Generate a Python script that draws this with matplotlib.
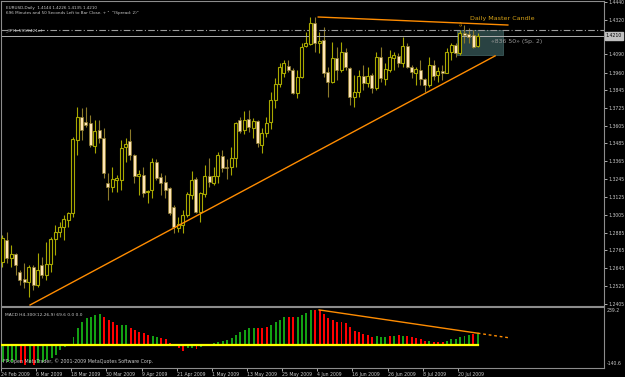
import numpy as np
import matplotlib.pyplot as plt
from matplotlib.patches import Rectangle

# EURUSD daily bars, 24 Feb 2009 .. 24 Jul 2009 (weekdays)
opens = [1.2687, 1.2835, 1.2714, 1.2741, 1.2619, 1.2572, 1.2552, 1.2653, 1.2532, 1.2667,
         1.2599, 1.2673, 1.2842, 1.2889, 1.2922, 1.2970, 1.3017, 1.3508, 1.3663, 1.3630,
         1.3623, 1.3468, 1.3576, 1.3522, 1.3219, 1.3192, 1.3239, 1.3239, 1.3461, 1.3502,
         1.3407, 1.3266, 1.3273, 1.3158, 1.3172, 1.3360, 1.3259, 1.3226, 1.3185, 1.3057,
         1.2916, 1.2936, 1.3003, 1.3138, 1.3246, 1.3024, 1.3145, 1.3266, 1.3219, 1.3266,
         1.3401, 1.3327, 1.3327, 1.3387, 1.3643, 1.3576, 1.3650, 1.3589, 1.3636, 1.3475,
         1.3556, 1.3630, 1.3778, 1.3886, 1.3960, 1.4007, 1.3980, 1.3825, 1.3933, 1.4142,
         1.4155, 1.4297, 1.4162, 1.4182, 1.3967, 1.3899, 1.4061, 1.3980, 1.4101, 1.3993,
         1.3798, 1.3832, 1.3940, 1.3892, 1.3946, 1.3859, 1.4068, 1.3919, 1.3980, 1.4061,
         1.4074, 1.4027, 1.4142, 1.4000, 1.3960, 1.3980, 1.3919, 1.3879, 1.4014, 1.3946,
         1.3973, 1.3960, 1.4101, 1.4148, 1.4094, 1.4229, 1.4222, 1.4216, 1.4144]
highs = [1.2869, 1.2889, 1.2801, 1.2747, 1.2633, 1.2680, 1.2667, 1.2667, 1.2747, 1.2720,
         1.2821, 1.2855, 1.2936, 1.2956, 1.3003, 1.3024, 1.3529, 1.3731, 1.3724, 1.3731,
         1.3677, 1.3643, 1.3643, 1.3589, 1.3286, 1.3327, 1.3273, 1.3508, 1.3522, 1.3583,
         1.3414, 1.3306, 1.3327, 1.3172, 1.3387, 1.3381, 1.3286, 1.3273, 1.3192, 1.3071,
         1.2990, 1.3037, 1.3158, 1.3300, 1.3259, 1.3158, 1.3340, 1.3387, 1.3327, 1.3428,
         1.3441, 1.3381, 1.3461, 1.3630, 1.3663, 1.3704, 1.3711, 1.3657, 1.3643, 1.3589,
         1.3663, 1.3832, 1.3926, 1.4027, 1.4047, 1.4047, 1.3993, 1.3980, 1.4162, 1.4236,
         1.4337, 1.4337, 1.4236, 1.4270, 1.4000, 1.4169, 1.4135, 1.4169, 1.4128, 1.4000,
         1.3946, 1.3980, 1.4014, 1.4000, 1.3960, 1.4101, 1.4135, 1.4027, 1.4115, 1.4101,
         1.4094, 1.4202, 1.4162, 1.4014, 1.4000, 1.4047, 1.3926, 1.4068, 1.4047, 1.4000,
         1.4014, 1.4128, 1.4162, 1.4162, 1.4249, 1.4283, 1.4263, 1.4249, 1.4226]
lows = [1.2653, 1.2680, 1.2653, 1.2599, 1.2532, 1.2512, 1.2451, 1.2498, 1.2518, 1.2579,
        1.2565, 1.2619, 1.2734, 1.2855, 1.2835, 1.2922, 1.2990, 1.3407, 1.3508, 1.3596,
        1.3461, 1.3421, 1.3488, 1.3253, 1.3104, 1.3158, 1.3158, 1.3172, 1.3360, 1.3374,
        1.3219, 1.3138, 1.3125, 1.3084, 1.3118, 1.3239, 1.3138, 1.3118, 1.3003, 1.2882,
        1.2889, 1.2882, 1.2990, 1.3111, 1.3017, 1.2956, 1.3125, 1.3192, 1.3205, 1.3219,
        1.3293, 1.3246, 1.3273, 1.3327, 1.3556, 1.3549, 1.3562, 1.3522, 1.3461, 1.3421,
        1.3529, 1.3583, 1.3724, 1.3866, 1.3933, 1.3967, 1.3818, 1.3791, 1.3926, 1.4135,
        1.4148, 1.4101, 1.4094, 1.3933, 1.3798, 1.3892, 1.3913, 1.3967, 1.3980, 1.3744,
        1.3731, 1.3798, 1.3845, 1.3866, 1.3825, 1.3845, 1.3899, 1.3879, 1.3967, 1.3980,
        1.4000, 1.4000, 1.3993, 1.3926, 1.3879, 1.3879, 1.3832, 1.3866, 1.3913, 1.3899,
        1.3913, 1.3960, 1.4047, 1.4068, 1.4081, 1.4162, 1.4162, 1.4128, 1.4135]
closes = [1.2848, 1.2714, 1.2741, 1.2667, 1.2565, 1.2552, 1.2653, 1.2532, 1.2633, 1.2599,
          1.2673, 1.2842, 1.2889, 1.2922, 1.2976, 1.3017, 1.3515, 1.3663, 1.3576, 1.3610,
          1.3475, 1.3569, 1.3522, 1.3286, 1.3192, 1.3246, 1.3253, 1.3455, 1.3482, 1.3407,
          1.3266, 1.3279, 1.3152, 1.3165, 1.3360, 1.3253, 1.3219, 1.3172, 1.3017, 1.2922,
          1.2943, 1.3003, 1.3145, 1.3239, 1.3024, 1.3152, 1.3266, 1.3226, 1.3266, 1.3407,
          1.3320, 1.3320, 1.3387, 1.3623, 1.3569, 1.3643, 1.3596, 1.3636, 1.3488, 1.3556,
          1.3623, 1.3778, 1.3886, 1.4000, 1.4027, 1.3980, 1.3825, 1.3933, 1.4135, 1.4162,
          1.4297, 1.4162, 1.4175, 1.3960, 1.3899, 1.4061, 1.3980, 1.4101, 1.4000, 1.3798,
          1.3832, 1.3940, 1.3892, 1.3940, 1.3859, 1.4068, 1.3926, 1.3987, 1.4068, 1.4081,
          1.4027, 1.4142, 1.4000, 1.3967, 1.3987, 1.3919, 1.3879, 1.4014, 1.3940, 1.3973,
          1.3960, 1.4101, 1.4148, 1.4094, 1.4229, 1.4216, 1.4202, 1.4135, 1.4210]

# MACD histogram (H4 source) per daily bar, g = rising, r = falling
macd = [-104, -104, -104, -93, -114, -125, -114, -125, -114, -104,
        -93, -83, -62, -31, -10, -4, 52, 104, 145, 166,
        176, 187, 193, 176, 156, 145, 125, 125, 125, 108,
        93, 83, 73, 62, 58, 52, 46, 37, 10, -4,
        -21, -37, -21, -17, -25, -10, -4, 1, 15, 19,
        25, 31, 42, 62, 79, 93, 104, 108, 108, 108,
        110, 125, 141, 156, 172, 176, 172, 176, 187, 197,
        218, 218, 218, 193, 166, 156, 145, 145, 135, 110,
        89, 79, 69, 62, 52, 56, 52, 52, 56, 56,
        62, 56, 58, 52, 46, 37, 27, 23, 19, 17,
        17, 25, 35, 37, 48, 58, 62, 66, 66]
macd_col = ('ggggrrgrgg' 'gggggggggg' 'gggrrrrggr' 'rrrrggrrrr' 'rrggrggggg'
            'ggggggggrr' 'rggggrrggg' 'grrrrrrrrr' 'rrrrrgggrg' 'rgrrrrrgrr'
            'rggggggrg')

date_labels = ['24 Feb 2009', '6 Mar 2009', '18 Mar 2009', '30 Mar 2009', '9 Apr 2009',
               '21 Apr 2009', '1 May 2009', '13 May 2009', '25 May 2009', '4 Jun 2009',
               '16 Jun 2009', '26 Jun 2009', '8 Jul 2009', '20 Jul 2009']
price_ticks = [1.4440, 1.4320, 1.4090, 1.3960, 1.3845, 1.3725, 1.3605, 1.3485, 1.3365,
               1.3245, 1.3125, 1.3005, 1.2885, 1.2765, 1.2645, 1.2525, 1.2405]

# drawn objects: (bar, price) end points
support_line = [(6.3, 1.2397), (112.0, 1.4075)]
resist_line = [(71.8, 1.4337), (114.9, 1.4283)]
macd_line = [(71.9, 218), (108, 73)]
macd_line_ext = [(108, 73), (115, 45)]
master_bar = 104
bid = 1.4210

BG = 'black'
BULL = '#a8a800'
BEAR_FILL = '#ffe4b5'
BEAR_EDGE = '#8c7a2a'
GRID = '#8c8c8c'
TXT = '#c8c8c8'

fig = plt.figure(figsize=(6.25, 3.77), dpi=100, facecolor=BG)
ax = fig.add_axes([1/625, (377-305.5)/377, 603/625, 304.5/377], facecolor=BG)
axm = fig.add_axes([1/625, (377-367.5)/377, 603/625, 61/377], facecolor=BG)

n = len(opens)
x = np.arange(n)
for a in (ax, axm):
    a.set_xlim(-0.3, 136.75)
    for s in a.spines.values():
        s.set_color(GRID)
        s.set_linewidth(0.8)

ax.set_ylim(1.23936, 1.44448)
axm.set_ylim(-140.6, 239.2)

# master candle box
mh, ml = highs[master_bar], lows[master_bar]
ax.add_patch(Rectangle((master_bar - 0.7, ml), 10.5, mh - ml, facecolor='#2e4a4a',
                       edgecolor='#3f6060', lw=0.6, alpha=0.9, zorder=1))

# candles
for i in x:
    o, h, l, c = opens[i], highs[i], lows[i], closes[i]
    up = c >= o
    ax.vlines(i, l, h, color=BULL if up else BEAR_EDGE, lw=0.8, zorder=2)
    lo, hgt = min(o, c), max(abs(c - o), 0.00025)
    if up:
        ax.add_patch(Rectangle((i - 0.34, lo), 0.68, hgt, facecolor=BG,
                               edgecolor=BULL, lw=0.8, zorder=3))
    else:
        ax.add_patch(Rectangle((i - 0.34, lo), 0.68, hgt, facecolor=BEAR_FILL,
                               edgecolor=BEAR_EDGE, lw=0.5, zorder=3))

# horizontal lines
ax.axhline(mh - 0.0001, color='#9a9a9a', lw=0.8, ls=(0, (6, 2, 1, 2)), zorder=2)
ax.axhline(bid, color='#b0b0b0', lw=0.7, zorder=2)
ax.text(0.6, mh - 0.0002, '_3P(1.5959421e)', color=TXT, fontsize=3.2, va='center', zorder=5)

# trend lines
ax.plot(*zip(*support_line), color='#ff8c00', lw=1.0, zorder=4)
ax.plot(*zip(*resist_line), color='#ff8c00', lw=1.0, zorder=4)
ax.text(master_bar + 0.1, mh + 0.0035, '⇩', color='#e8a000', fontsize=4.5,
        ha='center', va='center', zorder=5)
ax.text(106.3, 1.4330, 'Daily Master Candle', color='#d4a017', fontsize=4.6,
        va='center', zorder=5)
ax.text(111.0, 1.4175, '«836 50» (Sp. 2)', color='#9a9a9a', fontsize=4.4,
        va='center', zorder=5)

ax.text(0.008, 0.985, 'EURUSD,Daily  1.4144 1.4226 1.4135 1.4210', color=TXT,
        fontsize=3.0, transform=ax.transAxes, va='top')
ax.text(0.008, 0.967, '696 Minutes and 50 Seconds Left to Bar Close. + "  "(Spread: 2)" ',
        color=TXT, fontsize=3.0, transform=ax.transAxes, va='top')

# price axis
ax.yaxis.tick_right()
ax.set_yticks(price_ticks)
ax.set_yticklabels([f'{p:.4f}' for p in price_ticks])
ax.tick_params(axis='y', colors=TXT, labelsize=3.3, length=2, width=0.6, pad=1.5)
ax.set_xticks([])
ax.text(1.003, bid, f'{bid:.4f}', color='black', fontsize=3.3, va='center',
        transform=ax.get_yaxis_transform(),
        bbox=dict(boxstyle='square,pad=0.25', facecolor='#c0c0c0', edgecolor='#c0c0c0'))

# MACD panel
axm.bar(x, macd, width=0.45, color=['#ff0000' if c == 'r' else '#13a013' for c in macd_col],
        zorder=2)
axm.plot([-0.3, n - 1], [0, 0], color='#ffff00', lw=1.6, zorder=3)
axm.plot(*zip(*macd_line), color='#ff8c00', lw=1.0, zorder=4)
axm.plot(*zip(*macd_line_ext), color='#ff8c00', lw=1.0, ls=(0, (2, 2)), zorder=4)
axm.text(0.006, 0.9, 'MACD H4-300(12,26,9) 69.6 0.0 0.0', color=TXT, fontsize=3.2,
         transform=axm.transAxes, va='top')
axm.text(0.003, 0.05, 'FP:Open MetaTrader, © 2001-2009 MetaQuotes Software Corp.',
         color=TXT, fontsize=3.4, transform=axm.transAxes, va='bottom')
axm.set_yticks([])
axm.text(1.005, 0.93, '239.2', color=TXT, fontsize=3.3, transform=axm.transAxes, va='center')
axm.text(1.005, 0.06, '-140.6', color=TXT, fontsize=3.3, transform=axm.transAxes, va='center')

axm.set_xticks([8 * k - 0.5 for k in range(len(date_labels))])
axm.set_xticklabels(date_labels, ha='left')
axm.tick_params(axis='x', colors=TXT, labelsize=3.3, length=2, width=0.6, pad=1)

fig.savefig('out.png', dpi=100, facecolor=BG)
